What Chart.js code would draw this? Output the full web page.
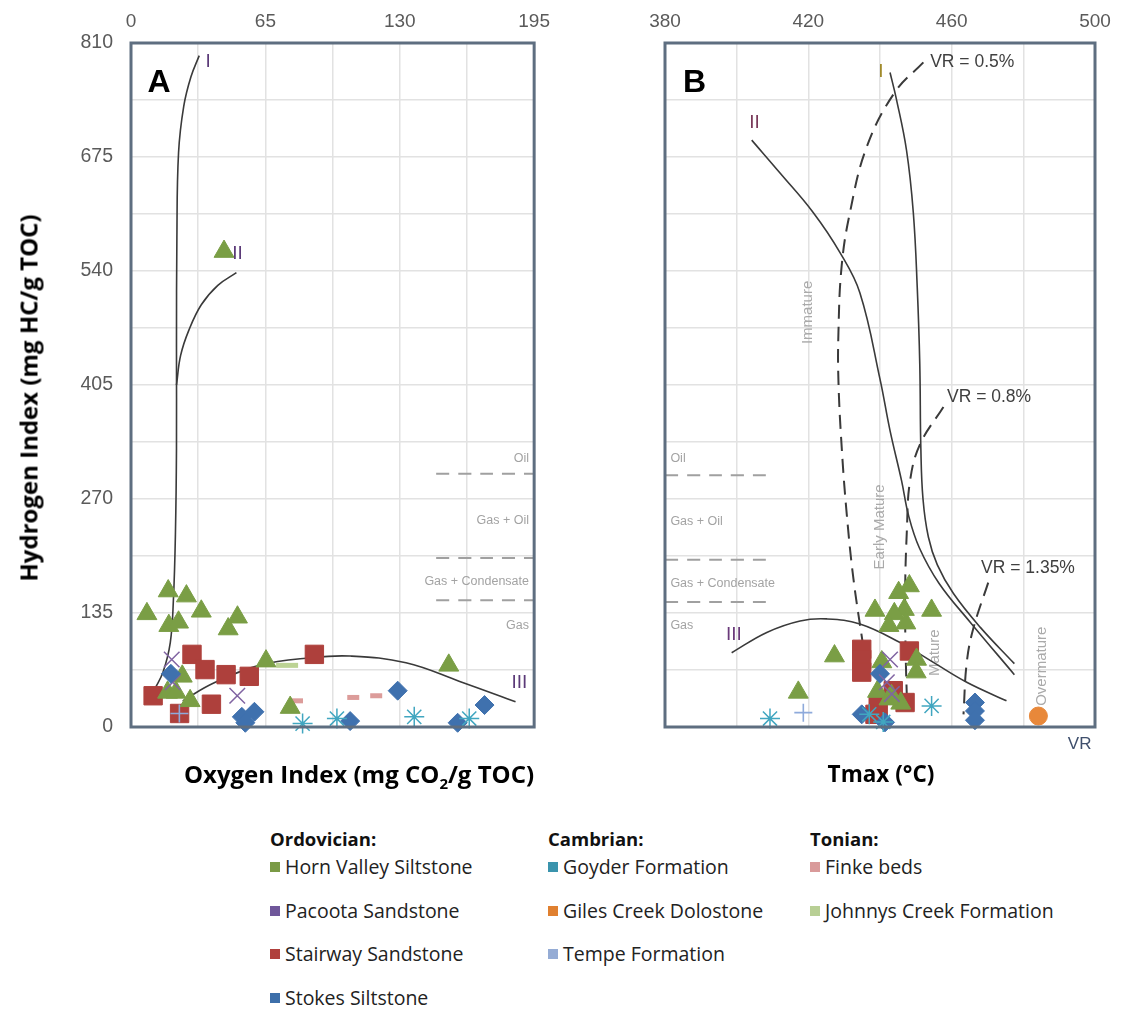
<!DOCTYPE html>
<html>
<head>
<meta charset="utf-8">
<title>Rock-Eval pyrolysis plots</title>
<script src="https://cdn.jsdelivr.net/npm/chart.js@4.4.1/dist/chart.umd.min.js"></script>
<style>
  body { margin: 0; background: #fff; width: 1121px; height: 1014px; position: relative; overflow: hidden; }
  canvas { position: absolute; top: 0; }
  #chartA { left: 0; }
  #chartB { left: 600px; }
  .axTitle { position: absolute; font: bold 24px "Open Sans", sans-serif; color: #000; white-space: nowrap; }
  .axTitle sub { font-size: 15px; }
  #yTitle { left: 28px; top: 398px; transform: translate(-50%, -50%) rotate(-90deg); }
  #xTitleA { left: 359px; top: 775px; transform: translate(-50%, -50%); }
  #xTitleB { left: 881px; top: 773px; transform: translate(-50%, -50%); font-size: 22.5px; }
  .legCol { position: absolute; top: 826px; font: 19.5px "Open Sans", sans-serif; color: #222; }
  .legCol h4 { margin: 0 0 2px 0; font: bold 18.5px "Open Sans", sans-serif; color: #111; }
  .legCol div { height: 43.5px; white-space: nowrap; }
  .legCol i { display: inline-block; width: 10px; height: 10px; margin-right: 5px; vertical-align: 2px; }
</style>
</head>
<body>
<canvas id="chartA" width="560" height="800"></canvas>
<canvas id="chartB" width="521" height="800"></canvas>
<div class="axTitle" id="yTitle">Hydrogen Index (mg HC/g TOC)</div>
<div class="axTitle" id="xTitleA">Oxygen Index (mg CO<sub>2</sub>/g TOC)</div>
<div class="axTitle" id="xTitleB">Tmax (°C)</div>
<div id="legend"></div>
<script>
// ---- tick labels ----
const oiLabels = [0, 65, 130, 195];
const hiLabels = [0, 135, 270, 405, 540, 675, 810];
const tmaxLabels = [380, 420, 460, 500];

// ---- panel A samples: [Oxygen Index, Hydrogen Index] ----
const hornValleyA = [[45,563],[7.7,134],[18,161],[26.8,155],[34,137],[18.3,120],[23,124],[51.5,130],[47,116],[65.3,78],[24.8,60],[17.7,41],[21.8,41],[28.6,31],[77,23],[153.7,73]];
const stairwayA = [[29.5,86],[35.8,68],[46,62],[57.2,60],[10.7,37],[38.9,27],[23.5,16],[88.7,86]];
const pacootaA = [[19.7,80],[20.2,53],[51.4,37]];
const stokesA = [[19.3,63],[53.6,12],[59.7,18],[55.3,5],[106,7],[129,43],[158,5],[171,26]];
const goyderA = [[83,4],[99.6,10],[137,12],[163.6,10]];
const tempeA = [[23.4,16]];
const finkeA = [[80.3,31],[107.5,35],[118.6,37]];
const johnnysA = [[75.5,73]];

// ---- panel B samples: [Tmax, Hydrogen Index] ----
const hornValleyB = [[448.2,167],[445.2,159],[438.6,138],[454.4,138],[446.8,139],[444,134],[442.5,120],[447.2,123],[427.3,84],[417.2,41],[440.5,77],[450.2,80],[450.1,65],[439.3,42],[443.2,37],[445.8,28],[442.5,33]];
const stairwayB = [[434.9,92],[434.9,80],[434.9,65],[448.2,90],[443.7,43],[447,29],[439.5,25],[438.6,15]];
const pacootaB = [[442.8,80],[441.9,53],[443.3,39]];
const stokesB = [[440,63],[434.9,15],[441.4,5.5],[466.5,29],[466.5,19],[466.5,8]];
const goyderB = [[409.3,10],[454.4,25],[440.9,6],[437,15]];
const tempeB = [[418.6,17]];
const gilesB = [[484.2,13]];

// ---- kerogen type curves ----
const typeIA = [[11.5,45],[15.5,65],[19,100],[20.5,150],[21.5,230],[22,330],[22,450],[22.2,580],[23,680],[25.5,735],[29,770],[33,795]];
const typeIIA = [[22,405],[24,440],[28,470],[34,500],[42,523],[51,538]];
const typeIIIA = [[25,31],[40,52],[62,73],[87,82],[106,84],[133,76],[159,54],[186,30]];
const typeIB = [[442.8,775],[444.5,745],[447.4,683],[449.3,609],[450.4,520],[451.1,430],[451.4,330],[452,270],[453.5,225],[456,192],[460.5,158],[468,118],[477.5,75]];
const typeIIB = [[404.2,695],[412.1,656],[421.4,609],[428.8,562],[434.4,514],[440,412],[442.8,351],[446,292],[448,250],[451,212],[456.5,170],[465,125],[477.5,62]];
const typeIIIB = [[398.6,88],[408.4,112],[417.7,125.6],[425.1,128],[434.4,122],[445.6,100],[454.9,76.5],[464.2,53],[475.3,31]];
const vr05 = [[452.1,787],[444.2,752],[436.3,687],[431.6,609],[429.3,546],[428.4,467],[428.4,410],[429.3,332],[430.7,253],[432.6,175],[435.3,96],[436,75]];
const vr08 = [[457.7,379],[451.2,335],[448.4,292],[447.5,233],[447,155],[447.2,80],[447.5,35]];
const vr135 = [[470.2,171],[466,116],[464.2,76],[463.3,15]];

// ---- hydrocarbon zone boundaries (HI) ----
const zoneHI = [300, 200, 150];
const zoneOIRange = [147.6, 195];
const zoneTmaxRange = [380, 409.3];

const C = {
  horn: '#7a9e45', pacoota: '#8064a2', stair: '#ae403c', stokes: '#3f71ae',
  goyder: '#41a6c0', giles: '#e8883a', tempe: '#8eaadb', finke: '#dc9c9a', johnnys: '#bcd394'
};

function xy(arr) { return arr.map(p => ({ x: p[0], y: p[1] })); }

function pts(label, arr, style, color, r, bw, filled) {
  return {
    label, data: xy(arr), pointStyle: style, pointRadius: r, pointHoverRadius: r,
    backgroundColor: filled ? color : 'rgba(0,0,0,0)', borderColor: color,
    pointBorderWidth: bw, showLine: false, clip: false
  };
}

function curve(arr, dash, color, width) {
  return {
    label: '', data: xy(arr), showLine: true, pointRadius: 0, pointHoverRadius: 0,
    borderColor: color || '#3a3a3a', borderWidth: width || 1.6, borderDash: dash || [],
    tension: 0.4, fill: false, clip: false
  };
}

// texts + frame, drawn with the chart's scales
const annot = {
  id: 'annot',
  beforeDatasetsDraw(chart, args, opts) {
    const { ctx, scales: { x, y } } = chart;
    ctx.save();
    (opts.texts || []).forEach(t => {
      ctx.font = t.font;
      ctx.fillStyle = t.color;
      ctx.textAlign = t.align || 'left';
      ctx.textBaseline = 'middle';
      const px = x.getPixelForValue(t.x);
      const py = y.getPixelForValue(t.y) + (t.dy || 0);
      if (t.rot) {
        ctx.save(); ctx.translate(px, py); ctx.rotate(-Math.PI / 2);
        ctx.textAlign = 'center'; ctx.fillText(t.text, 0, 0); ctx.restore();
      } else {
        ctx.fillText(t.text, px, py);
      }
    });
    ctx.restore();
  },
  afterDraw(chart) {
    const { ctx, chartArea: a } = chart;
    ctx.save();
    ctx.strokeStyle = '#5e6e80';
    ctx.lineWidth = 3;
    ctx.strokeRect(a.left, a.top, a.width, a.height);
    ctx.restore();
  }
};

function baseOptions(xMin, xMax, xStep, xLabels, yWidth, padRight, showY, texts) {
  return {
    responsive: false, animation: false,
    layout: { padding: { left: 0, right: padRight, top: 0, bottom: 73 } },
    plugins: { legend: { display: false }, tooltip: { enabled: false }, annot: { texts } },
    scales: {
      x: {
        type: 'linear', position: 'top', min: xMin, max: xMax,
        afterFit: s => { s.height = 43; },
        grid: { color: '#e2e2e2', lineWidth: 1.5, drawTicks: false },
        border: { display: false },
        ticks: {
          stepSize: xStep, autoSkip: false, maxRotation: 0, padding: 10,
          color: '#5a5a5a', font: { family: 'Liberation Sans, Arial', size: 19 },
          callback: v => xLabels.includes(v) ? v : ''
        }
      },
      y: {
        type: 'linear', min: 0, max: 810,
        afterFit: s => { s.width = yWidth; },
        grid: { color: '#e2e2e2', lineWidth: 1.5, drawTicks: false },
        border: { display: false },
        ticks: {
          display: showY, stepSize: 67.5, autoSkip: false, padding: 18,
          color: '#5a5a5a', font: { family: 'Liberation Sans, Arial', size: 19.5 },
          callback: v => hiLabels.includes(v) ? v : ''
        }
      }
    }
  };
}

const big = 'bold 32px "Liberation Sans", Arial';
const typeFont = '19px "Liberation Sans", Arial';
const zoneFont = '12.5px "Liberation Sans", Arial';
const rotFont = '15px "Liberation Sans", Arial';
const vrFont = '17.5px "Liberation Sans", Arial';
const grey = '#a3a3a3';

// ---- panel A ----
const zoneLinesA = zoneHI.map(h => curve([[zoneOIRange[0], h], [zoneOIRange[1], h]], [13, 9], '#a0a0a0', 2));
new Chart(document.getElementById('chartA'), {
  type: 'scatter',
  data: {
    datasets: [
      pts('Tempe Formation', tempeA, 'cross', C.tempe, 9, 1.6, false),
      pts('Goyder Formation', goyderA, 'star', C.goyder, 10, 1.5, false),
      pts('Stokes Siltstone', stokesA, 'rectRot', C.stokes, 9.5, 1, true),
      pts('Pacoota Sandstone', pacootaA, 'crossRot', C.pacoota, 11, 1.5, false),
      pts('Horn Valley Siltstone', hornValleyA, 'triangle', C.horn, 11.5, 1, true),
      pts('Stairway Sandstone', stairwayA, 'rect', C.stair, 13, 1, true),
      pts('Finke beds', finkeA, 'line', C.finke, 6, 5, false),
      pts('Johnnys Creek Formation', johnnysA, 'line', C.johnnys, 11, 5, false),
      curve(typeIA), curve(typeIIA), curve(typeIIIA),
      ...zoneLinesA
    ]
  },
  options: baseOptions(0, 195, 32.5, oiLabels, 131, 15, true, [
    { text: 'A', x: 8, y: 762, font: big, color: '#000' },
    { text: 'I', x: 36, y: 788, font: typeFont, color: '#5b3a78' },
    { text: 'II', x: 49, y: 560, font: typeFont, color: '#5b3a78' },
    { text: 'III', x: 184, y: 52, font: typeFont, color: '#5b3a78' },
    { text: 'Oil', x: 192.5, y: 318, font: zoneFont, color: grey, align: 'right' },
    { text: 'Gas + Oil', x: 192.5, y: 245, font: zoneFont, color: grey, align: 'right' },
    { text: 'Gas + Condensate', x: 192.5, y: 172, font: zoneFont, color: grey, align: 'right' },
    { text: 'Gas', x: 192.5, y: 120, font: zoneFont, color: grey, align: 'right' }
  ]),
  plugins: [annot]
});

// ---- panel B ----
const zoneLinesB = zoneHI.map(h => curve([[zoneTmaxRange[0], h - 2], [zoneTmaxRange[1], h - 2]], [13, 9], '#a0a0a0', 2));
new Chart(document.getElementById('chartB'), {
  type: 'scatter',
  data: {
    datasets: [
      pts('Tempe Formation', tempeB, 'cross', C.tempe, 9, 1.6, false),
      pts('Goyder Formation', goyderB, 'star', C.goyder, 10, 1.5, false),
      pts('Pacoota Sandstone', pacootaB, 'crossRot', C.pacoota, 11, 1.5, false),
      pts('Stokes Siltstone', stokesB, 'rectRot', C.stokes, 9.5, 1, true),
      pts('Horn Valley Siltstone', hornValleyB, 'triangle', C.horn, 11.5, 1, true),
      pts('Stairway Sandstone', stairwayB, 'rect', C.stair, 13, 1, true),
      pts('Giles Creek Dolostone', gilesB, 'circle', C.giles, 9, 1, true),
      curve(typeIB), curve(typeIIB), curve(typeIIIB),
      curve(vr05, [14, 8], '#3a3a3a', 2), curve(vr08, [14, 8], '#3a3a3a', 2), curve(vr135, [14, 8], '#3a3a3a', 2),
      ...zoneLinesB
    ]
  },
  options: baseOptions(380, 500, 20, tmaxLabels, 65, 26, false, [
    { text: 'B', x: 385, y: 762, font: big, color: '#000' },
    { text: 'I', x: 439.5, y: 776, font: typeFont, color: '#a08a2a' },
    { text: 'II', x: 403.5, y: 715, font: typeFont, color: '#7a3a5a' },
    { text: 'III', x: 397, y: 109, font: typeFont, color: '#6a3a7a' },
    { text: 'VR = 0.5%', x: 454, y: 787, font: vrFont, color: '#404040' },
    { text: 'VR = 0.8%', x: 458.7, y: 391, font: vrFont, color: '#404040' },
    { text: 'VR = 1.35%', x: 468.2, y: 188, font: vrFont, color: '#404040' },
    { text: 'Oil', x: 381.5, y: 318, font: zoneFont, color: grey },
    { text: 'Gas + Oil', x: 381.5, y: 243, font: zoneFont, color: grey },
    { text: 'Gas + Condensate', x: 381.5, y: 170, font: zoneFont, color: grey },
    { text: 'Gas', x: 381.5, y: 120, font: zoneFont, color: grey },
    { text: 'Immature', x: 420, y: 491, font: rotFont, color: '#aaaaaa', rot: true },
    { text: 'Early Mature', x: 440, y: 237, font: rotFont, color: '#aaaaaa', rot: true },
    { text: 'Mature', x: 455.3, y: 88, font: rotFont, color: '#aaaaaa', rot: true },
    { text: 'Overmature', x: 485.1, y: 72, font: rotFont, color: '#aaaaaa', rot: true },
    { text: 'VR', x: 499, y: 0, dy: 17, font: '17px "Liberation Sans", Arial', color: '#3f4f6c', align: 'right' }
  ]),
  plugins: [annot]
});

// ---- legend ----
const legendGroups = [
  { title: 'Ordovician:', left: 270, items: [['Horn Valley Siltstone', '#7a9a45'], ['Pacoota Sandstone', '#6f579a'], ['Stairway Sandstone', '#b0403c'], ['Stokes Siltstone', '#3d6faa']] },
  { title: 'Cambrian:', left: 548, items: [['Goyder Formation', '#3a94ad'], ['Giles Creek Dolostone', '#e08030'], ['Tempe Formation', '#95acd5']] },
  { title: 'Tonian:', left: 810, items: [['Finke beds', '#d99a9a'], ['Johnnys Creek Formation', '#b8cf95']] }
];
const legendEl = document.getElementById('legend');
legendGroups.forEach(g => {
  const col = document.createElement('div');
  col.className = 'legCol';
  col.style.left = g.left + 'px';
  col.innerHTML = '<h4>' + g.title + '</h4>' +
    g.items.map(it => '<div><i style="background:' + it[1] + '"></i>' + it[0] + '</div>').join('');
  legendEl.appendChild(col);
});
</script>
</body>
</html>
